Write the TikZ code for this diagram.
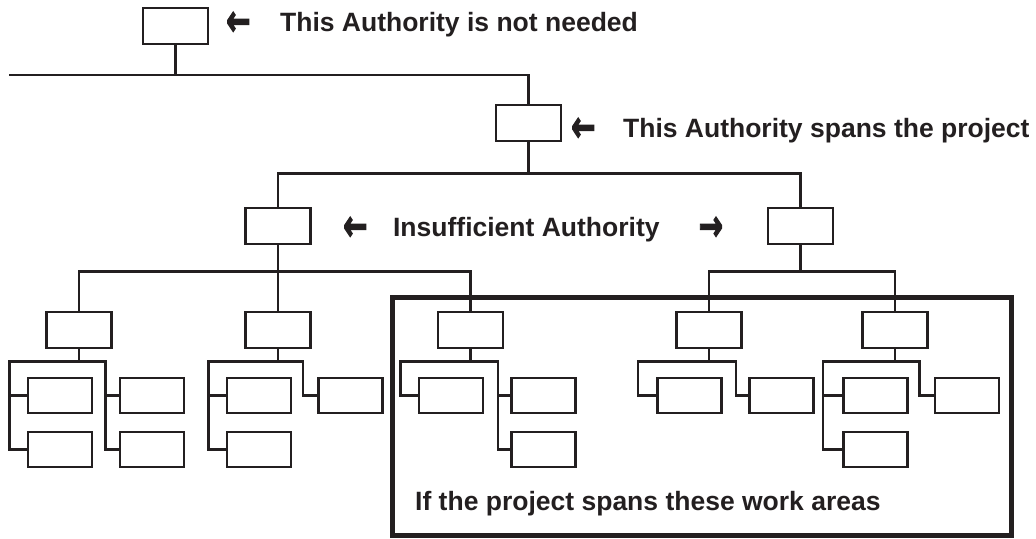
\documentclass[tikz,border=0pt]{standalone}
\usepackage{graphicx}
\usepackage{fontspec}
\setmainfont{Liberation Sans}
\newfontfamily\arrowfont{DejaVu Sans}[FakeBold=3, Scale=1.1]
\newcommand\tipleft{\raisebox{-3.5pt}{\arrowfont\scalebox{1}[1.5]{←}}}
\newcommand\tipright{\raisebox{-3.5pt}{\arrowfont\scalebox{1}[1.5]{→}}}
\usetikzlibrary{calc}
\definecolor{ink}{RGB}{35,31,32}

\begin{document}
\begin{tikzpicture}[scale=0.5, transform shape, x=1pt, y=-1pt]
    \tikzstyle{unit} = [draw=ink, line width=1.3pt, rectangle, minimum width=65pt, minimum height=36pt, inner sep=0pt]
    \tikzstyle{sub} = [unit, minimum width=64pt, minimum height=35pt]
    \tikzstyle{wire} = [draw=ink, line width=1.3pt]
    \tikzstyle{note} = [text=ink, inner sep=0pt, anchor=base west, font=\fontsize{26.5}{30}\selectfont\bfseries]

    \useasboundingbox (0,0) rectangle (1036,539);

    % authority levels
    \path
        node[unit] (head) at (175.5,26) {}
        node[unit] (auth) at (528.5,123) {}
        node[unit] (left) at (278,226) {}
        node[unit] (right) at (800.5,226) {}

        node[unit] (a) at (79,330) {}
        node[unit] (b) at (278,330) {}
        node[unit] (c) at (470.5,330) {}
        node[unit] (d) at (709,330) {}
        node[unit] (e) at (895,330) {}

        node[sub] (a1) at (60,395.5) {}
        node[sub] (a2) at (60,449.5) {}
        node[sub] (a3) at (152,395.5) {}
        node[sub] (a4) at (152,449.5) {}
        node[sub] (b1) at (259,395.5) {}
        node[sub] (b2) at (259,449.5) {}
        node[sub] (b3) at (350.5,395.5) {}
        node[sub] (c1) at (451,395.5) {}
        node[sub] (c2) at (543.5,395.5) {}
        node[sub] (c3) at (543.5,449.5) {}
        node[sub] (d1) at (689.5,395.5) {}
        node[sub] (d2) at (781.5,395.5) {}
        node[sub] (e1) at (875.5,395.5) {}
        node[sub] (e2) at (875.5,449.5) {}
        node[sub] (e3) at (967,395.5) {};

    % labels
    \node[note] (notneeded) at (226,32) {\tipleft\hspace{29.5pt}This Authority is not needed};
    \node[note] (spans) at (571,138) {\tipleft\hspace{27.5pt}This Authority spans the project};
    \node[note] (insufficient) at (343,237) {\tipleft\hspace{25.5pt}Insufficient Authority\hspace{39pt}\tipright};
    \node[note] (workareas) at (415,510) {If the project spans these work areas};

    % work area frame
    \draw[ink, line width=2.5pt] (392.5,297.5) rectangle (1011.5,535);

    % upper links
    \coordinate (start) at (9,75);
    \draw[wire] (start) -| (auth.north);
    \draw[wire] (head.south) -- (head.south |- start);
    \draw[wire] (auth.south) -- ++(0,32) coordinate (midbus);
    \draw[wire] (left.north) |- (midbus) -| (right.north);

    \draw[wire] (left.south) -- (b.north);
    \coordinate (lbus) at ($(left.south)+(0,27)$);
    \draw[wire] (a.north) |- (lbus) -| (c.north);
    \draw[wire] (right.south) -- ++(0,27) coordinate (rbus);
    \draw[wire] (d.north) |- (rbus) -| (e.north);

    % lower links
    \draw[wire] (a.south) -- ++(0,13) coordinate (abus);
    \draw[wire] (a2.west) -- ++(-18,0) |- (abus);
    \draw[wire] (a1.west) -- ++(-18,0);
    \draw[wire] (a4.west) -- ++(-14,0) |- (abus);
    \draw[wire] (a3.west) -- ++(-14,0);

    \draw[wire] (b.south) -- ++(0,13) coordinate (bbus);
    \draw[wire] (b2.west) -- ++(-18,0) |- (bbus);
    \draw[wire] (b1.west) -- ++(-18,0);
    \draw[wire] (b3.west) -- ++(-15,0) |- (bbus);

    \draw[wire] (c.south) -- ++(0,13) coordinate (cbus);
    \draw[wire] (c1.west) -- ++(-18,0) |- (cbus);
    \draw[wire] (c3.west) -- ++(-13,0) |- (cbus);
    \draw[wire] (c2.west) -- ++(-13,0);

    \draw[wire] (d.south) -- ++(0,13) coordinate (dbus);
    \draw[wire] (d1.west) -- ++(-19,0) |- (dbus);
    \draw[wire] (d2.west) -- ++(-13,0) |- (dbus);

    \draw[wire] (e.south) -- ++(0,13) coordinate (ebus);
    \draw[wire] (e2.west) -- ++(-20,0) |- (ebus);
    \draw[wire] (e1.west) -- ++(-20,0);
    \draw[wire] (e3.west) -- ++(-15,0) |- (ebus);
\end{tikzpicture}
\end{document}
